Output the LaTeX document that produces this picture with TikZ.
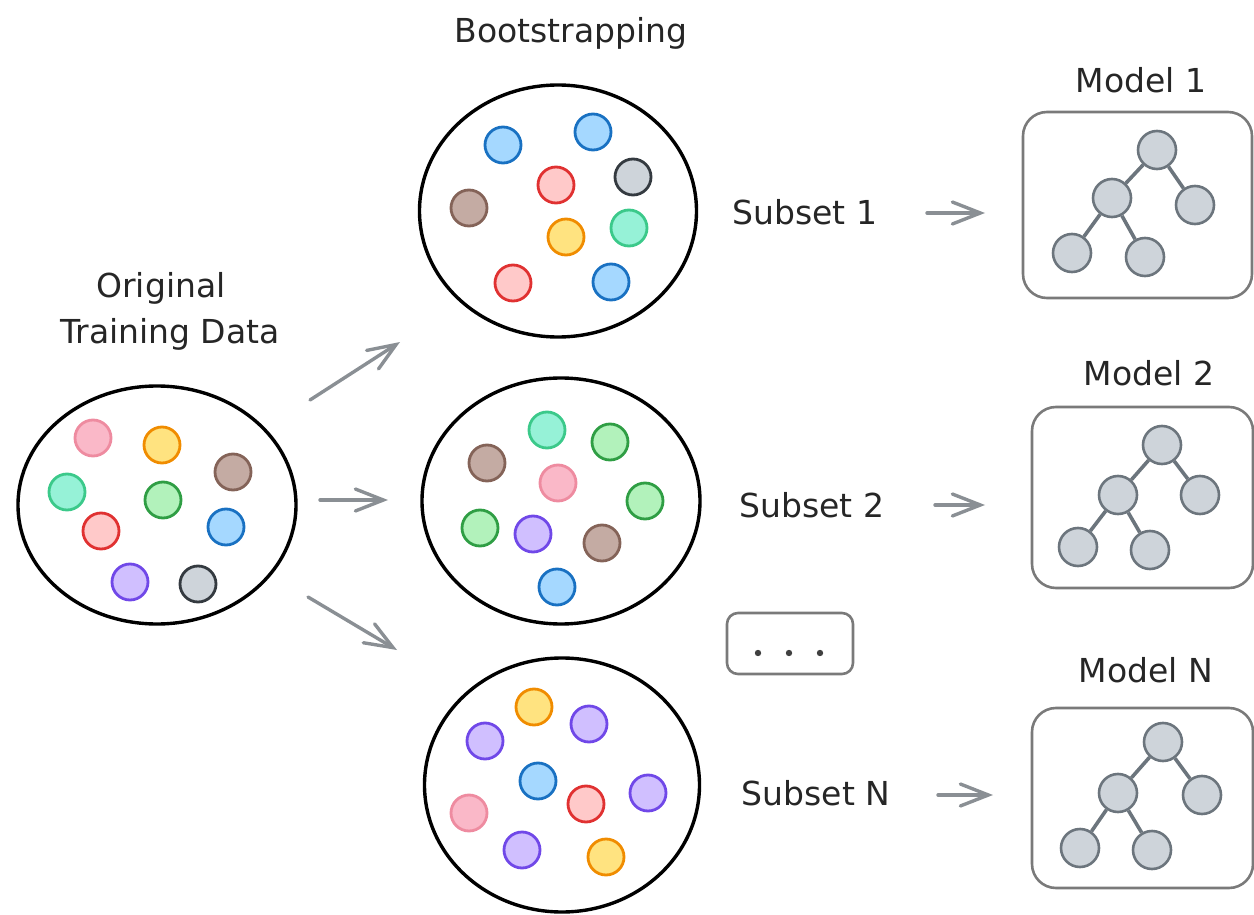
\documentclass[tikz,border=0pt]{standalone}
\usepackage{fontspec}
\setmainfont{DejaVu Sans}
\usetikzlibrary{arrows.meta,shapes.geometric}
\definecolor{pinkS}{HTML}{EE8BA0}\definecolor{pinkF}{HTML}{FAB8C8}
\definecolor{redS}{HTML}{E03131}\definecolor{redF}{HTML}{FFC9C9}
\definecolor{yelS}{HTML}{F08C00}\definecolor{yelF}{HTML}{FFE380}
\definecolor{brnS}{HTML}{846358}\definecolor{brnF}{HTML}{C4ABA3}
\definecolor{mntS}{HTML}{3BC98A}\definecolor{mntF}{HTML}{96F2D7}
\definecolor{grnS}{HTML}{2F9E44}\definecolor{grnF}{HTML}{B2F2BB}
\definecolor{bluS}{HTML}{1971C2}\definecolor{bluF}{HTML}{A5D8FF}
\definecolor{purS}{HTML}{7048E8}\definecolor{purF}{HTML}{D0BFFF}
\definecolor{gryS}{HTML}{343A40}\definecolor{gryF}{HTML}{CED4DA}
\definecolor{treeS}{HTML}{6C757D}\definecolor{treeF}{HTML}{CED4DA}
\definecolor{boxS}{HTML}{7A7A7A}\definecolor{arrC}{HTML}{8A8F94}
\begin{document}
\begin{tikzpicture}[x=1pt,y=-1pt,
  lbl/.style={font=\fontsize{33}{40}\selectfont, inner sep=0pt, anchor=base, text=black!85},
  bigc/.style={ellipse, draw=black, line width=3.4pt, inner sep=0pt},
  dot/.style={circle, minimum size=36pt, inner sep=0pt, line width=2.8pt},
  pinkd/.style={dot, draw=pinkS, fill=pinkF},
  redd/.style={dot, draw=redS, fill=redF},
  yeld/.style={dot, draw=yelS, fill=yelF},
  brnd/.style={dot, draw=brnS, fill=brnF},
  mntd/.style={dot, draw=mntS, fill=mntF},
  grnd/.style={dot, draw=grnS, fill=grnF},
  blud/.style={dot, draw=bluS, fill=bluF},
  purd/.style={dot, draw=purS, fill=purF},
  gryd/.style={dot, draw=gryS, fill=gryF},
  tnode/.style={circle, minimum size=38pt, inner sep=0pt, draw=treeS, fill=treeF, line width=2.6pt},
  tedge/.style={draw=treeS, line width=3.6pt},
  mbox/.style={rectangle, rounded corners=24pt, draw=boxS, line width=2.6pt, inner sep=0pt},
  arr/.style={draw=arrC, line width=3.4pt, line cap=round, -{Straight Barb[length=28pt,width=22pt,line cap=round]}}
]
\useasboundingbox (0,0) rectangle (1254,915);

% labels
\node[lbl] (tboot) at (571,43) {Bootstrapping};
\node[lbl] (torig1) at (161,297) {Original};
\node[lbl] (torig2) at (170,343) {Training Data};
\node[lbl] (ts1) at (805,225) {Subset 1};
\node[lbl] (ts2) at (812,517) {Subset 2};
\node[lbl] (tsn) at (816,805) {Subset N};
\node[lbl] (tm1) at (1141,93) {Model 1};
\node[lbl] (tm2) at (1149,385) {Model 2};
\node[lbl] (tmn) at (1146,682) {Model N};

% big circles
\node[bigc, minimum width=278pt, minimum height=238pt] (orig) at (157,505) {};
\node[bigc, minimum width=277pt, minimum height=252pt] (s1) at (558,211) {};
\node[bigc, minimum width=278pt, minimum height=246pt] (s2) at (561,501) {};
\node[bigc, minimum width=275pt, minimum height=254pt] (sn) at (562,785) {};

% original dots
\node[pinkd] (o1) at (93,438) {};
\node[yeld] (o2) at (162,445) {};
\node[brnd] (o3) at (233,472) {};
\node[mntd] (o4) at (67,492) {};
\node[grnd] (o5) at (163,500) {};
\node[redd] (o6) at (101,531) {};
\node[blud] (o7) at (226,527) {};
\node[purd] (o8) at (130,582) {};
\node[gryd] (o9) at (198,584) {};

% subset 1 dots
\node[blud] (a1) at (503,145) {};
\node[blud] (a2) at (593,132) {};
\node[redd] (a3) at (556,185) {};
\node[gryd] (a4) at (633,177) {};
\node[brnd] (a5) at (469,208) {};
\node[yeld] (a6) at (566,237) {};
\node[mntd] (a7) at (629,228) {};
\node[redd] (a8) at (513,283) {};
\node[blud] (a9) at (611,282) {};

% subset 2 dots
\node[mntd] (b1) at (547,430) {};
\node[grnd] (b2) at (610,442) {};
\node[brnd] (b3) at (487,463) {};
\node[pinkd] (b4) at (558,483) {};
\node[grnd] (b5) at (645,501) {};
\node[grnd] (b6) at (480,528) {};
\node[purd] (b7) at (533,534) {};
\node[brnd] (b8) at (602,543) {};
\node[blud] (b9) at (557,587) {};

% subset N dots
\node[yeld] (c1) at (534,707) {};
\node[purd] (c2) at (589,724) {};
\node[purd] (c3) at (485,741) {};
\node[blud] (c4) at (538,781) {};
\node[redd] (c5) at (586,804) {};
\node[purd] (c6) at (648,793) {};
\node[pinkd] (c7) at (469,813) {};
\node[purd] (c8) at (522,850) {};
\node[yeld] (c9) at (606,857) {};

% model boxes
\node[mbox, minimum width=229pt, minimum height=186pt] (m1) at (1137.5,205) {};
\node[mbox, minimum width=221pt, minimum height=181pt] (m2) at (1142.5,497.5) {};
\node[mbox, minimum width=221pt, minimum height=180pt] (mn) at (1142.5,798) {};

% trees
\node[tnode] (r1) at (1157,150) {};
\node[tnode] (i1) at (1112,198) {};
\node[tnode] (q1) at (1195,205) {};
\node[tnode] (l1) at (1072,253) {};
\node[tnode] (k1) at (1145,257) {};
\draw[tedge] (r1) -- (i1) (r1) -- (q1) (i1) -- (l1) (i1) -- (k1);

\node[tnode] (r2) at (1162,445) {};
\node[tnode] (i2) at (1118,495) {};
\node[tnode] (q2) at (1200,495) {};
\node[tnode] (l2) at (1078,547) {};
\node[tnode] (k2) at (1150,550) {};
\draw[tedge] (r2) -- (i2) (r2) -- (q2) (i2) -- (l2) (i2) -- (k2);

\node[tnode] (r3) at (1163,742) {};
\node[tnode] (i3) at (1118,793) {};
\node[tnode] (q3) at (1202,795) {};
\node[tnode] (l3) at (1080,848) {};
\node[tnode] (k3) at (1152,850) {};
\draw[tedge] (r3) -- (i3) (r3) -- (q3) (i3) -- (l3) (i3) -- (k3);

% dots box
\node[mbox, rounded corners=11pt, minimum width=126pt, minimum height=61pt] (dbox) at (790,643.5) {};
\fill[black!75] ([xshift=-32pt,yshift=-9.5pt]dbox.center) circle (3.2pt)
                ([xshift=-1pt,yshift=-9.5pt]dbox.center) circle (3.2pt)
                ([xshift=30pt,yshift=-9.5pt]dbox.center) circle (3.2pt);

% arrows
\coordinate (p1) at (310,400); \coordinate (p1e) at (400,342);
\coordinate (p2) at (320,500); \coordinate (p2e) at (388,500);
\coordinate (p3) at (308,597); \coordinate (p3e) at (397,650);
\draw[arr] (p1) -- (p1e);
\draw[arr] (p2) -- (p2e);
\draw[arr] (p3) -- (p3e);

\coordinate (q1s) at (927,213); \coordinate (q1e) at (985,213);
\coordinate (q2s) at (935,505); \coordinate (q2e) at (985,505);
\coordinate (q3s) at (938,795); \coordinate (q3e) at (993,795);
\draw[arr] (q1s) -- (q1e);
\draw[arr] (q2s) -- (q2e);
\draw[arr] (q3s) -- (q3e);
\end{tikzpicture}
\end{document}
